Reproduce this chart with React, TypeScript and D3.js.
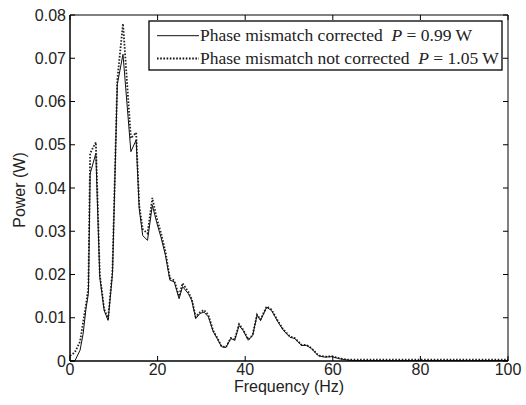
import React from "react";
import * as d3 from "d3";

const freq = [0, 1.1, 2.3, 3.0, 3.65, 4.2, 4.6, 5.9, 6.8, 7.8, 8.7, 9.7, 10.8, 12.1, 13.9, 15.1, 15.8, 16.6, 17.7, 18.8, 19.8, 20.8, 21.8, 22.8, 23.8, 24.9, 25.7, 27.0, 27.8, 28.7, 29.7, 30.6, 31.6, 32.7, 33.7, 34.6, 35.6, 36.7, 37.6, 38.6, 39.5, 40.7, 41.7, 42.7, 43.5, 44.9, 46.0, 47.5, 48.7, 50.2, 51.3, 52.9, 54.0, 55.1, 56.7, 58.2, 59.8, 61.6, 63.5, 65, 70, 75, 80, 85, 90, 95, 100];

const corrected = [0, 0, 0.0025, 0.0063, 0.0121, 0.0156, 0.0433, 0.048, 0.0194, 0.0117, 0.0094, 0.0202, 0.064, 0.0709, 0.0484, 0.0511, 0.0352, 0.029, 0.0279, 0.036, 0.032, 0.0285, 0.0244, 0.0187, 0.0183, 0.0144, 0.0172, 0.0156, 0.014, 0.0098, 0.011, 0.0113, 0.0102, 0.0068, 0.005, 0.0033, 0.0031, 0.0052, 0.0048, 0.0082, 0.0071, 0.0048, 0.0059, 0.0106, 0.0094, 0.0124, 0.0117, 0.009, 0.0071, 0.0055, 0.0052, 0.0036, 0.0036, 0.0029, 0.0012, 0.0009, 0.001, 0.0005, 0.0002, 0.0001, 0.0001, 0.0001, 0.0001, 0.0001, 0.0001, 0.0001, 0.0001];

const notCorrected = [0.0012, 0.002, 0.0045, 0.009, 0.013, 0.017, 0.048, 0.0506, 0.02, 0.012, 0.0097, 0.021, 0.065, 0.078, 0.0515, 0.0528, 0.036, 0.0305, 0.0295, 0.0377, 0.033, 0.0295, 0.0252, 0.0192, 0.0186, 0.015, 0.018, 0.016, 0.0143, 0.0102, 0.0113, 0.0118, 0.0106, 0.007, 0.0052, 0.0034, 0.0032, 0.0053, 0.005, 0.0085, 0.0073, 0.005, 0.006, 0.0107, 0.0096, 0.0126, 0.0119, 0.0092, 0.0073, 0.0057, 0.0053, 0.0037, 0.0037, 0.003, 0.0013, 0.001, 0.0011, 0.0006, 0.0003, 0.0003, 0.0003, 0.0003, 0.0003, 0.0003, 0.0003, 0.0003, 0.0003];

const xTicks = [0, 20, 40, 60, 80, 100];
const yTicks = [0, 0.01, 0.02, 0.03, 0.04, 0.05, 0.06, 0.07, 0.08];
const legendLabels = ["Phase mismatch corrected", "Phase mismatch not corrected"];
const legendP = ["0.99", "1.05"];

export default function App() {
  const W = 526, H = 405;
  const L = 70, R = 508, T = 15, B = 361;
  const x = d3.scaleLinear().domain([0, 100]).range([L, R]);
  const y = d3.scaleLinear().domain([0, 0.08]).range([B, T]);
  const line = d3.line<number>().x((_, i) => x(freq[i])).y((d) => y(d));
  const sans = "'Liberation Sans', Arial, sans-serif";
  const serif = "'Liberation Serif', 'Times New Roman', serif";
  const tl = 5;
  return (
    <svg width={W} height={H} style={{ position: "absolute", left: 0, top: 0, background: "#fff" }}>
      <rect x={0} y={0} width={W} height={H} fill="#fff" />
      <path d={line(notCorrected) || ""} fill="none" stroke="#222" strokeWidth={1.8} strokeDasharray="1.6,1.6" />
      <path d={line(corrected) || ""} fill="none" stroke="#111" strokeWidth={1} />
      {/* frame */}
      <line x1={L} x2={R} y1={T} y2={T} stroke="#000" strokeWidth={1} />
      <line x1={R} x2={R} y1={T} y2={B} stroke="#000" strokeWidth={1} />
      <line x1={L} x2={L} y1={T} y2={B} stroke="#000" strokeWidth={1.5} />
      <line x1={L} x2={R} y1={B} y2={B} stroke="#000" strokeWidth={1.5} />
      {xTicks.map((t) => (
        <g key={"x" + t}>
          <line x1={x(t)} x2={x(t)} y1={B} y2={B - tl} stroke="#000" />
          <line x1={x(t)} x2={x(t)} y1={T} y2={T + tl} stroke="#000" />
          <text x={x(t)} y={B + 14} fontSize={16} fontFamily={sans} textAnchor="middle" fill="#222">{t}</text>
        </g>
      ))}
      {yTicks.map((t) => (
        <g key={"y" + t}>
          <line x1={L} x2={L + tl} y1={y(t)} y2={y(t)} stroke="#000" />
          <line x1={R} x2={R - tl} y1={y(t)} y2={y(t)} stroke="#000" />
          <text x={L - 4} y={y(t)} dy="0.35em" fontSize={16} fontFamily={sans} textAnchor="end" fill="#222">{t === 0 ? "0" : t.toFixed(2)}</text>
        </g>
      ))}
      <text x={(L + R) / 2} y={392} fontSize={16} fontFamily={sans} textAnchor="middle" fill="#222">Frequency (Hz)</text>
      <text transform={`translate(25,190) rotate(-90)`} fontSize={16} fontFamily={sans} textAnchor="middle" fill="#222">Power (W)</text>
      {/* legend */}
      <rect x={149} y={21} width={353} height={49} fill="#fff" stroke="#000" strokeWidth={1.3} />
      {legendLabels.map((lab, i) => {
        const cy = 35.7 + i * 22.8;
        return (
          <g key={lab}>
            <line x1={157} x2={199} y1={cy} y2={cy} stroke="#111" strokeWidth={i === 0 ? 1 : 1.8} strokeDasharray={i === 0 ? undefined : "1.6,1.6"} />
            <text x={200} y={cy} dy="0.33em" fontSize={17.5} fontFamily={serif} fill="#222">
              {lab + "\u00a0\u00a0"}
              <tspan fontStyle="italic">P</tspan>
              {" = " + legendP[i] + " W"}
            </text>
          </g>
        );
      })}
    </svg>
  );
}
